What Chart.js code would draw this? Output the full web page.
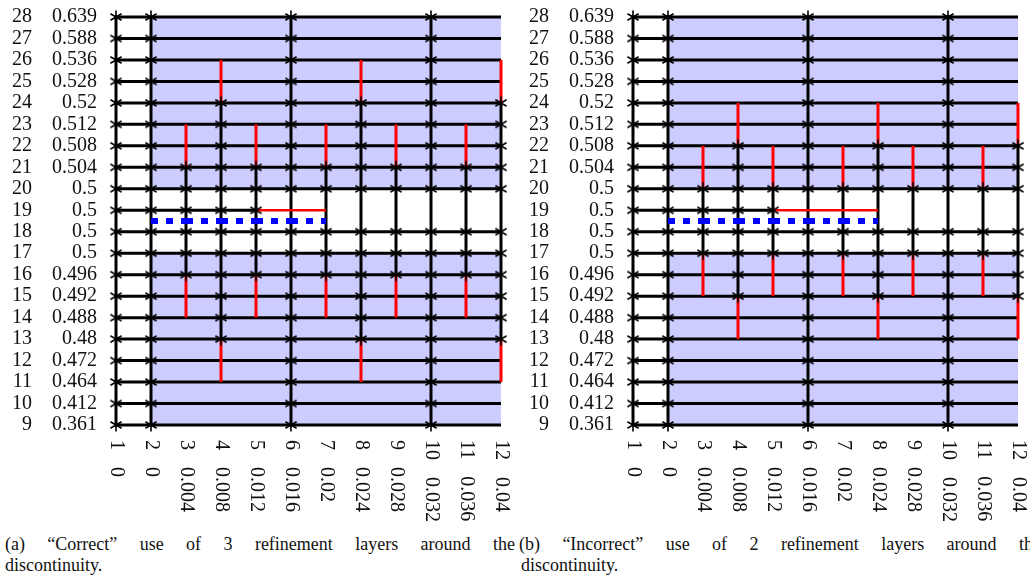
<!DOCTYPE html>
<html lang="en">
<head>
    <meta charset="UTF-8">
    <title>Refinement layers around the discontinuity</title>
    <script src="https://cdnjs.cloudflare.com/ajax/libs/Chart.js/4.4.8/chart.umd.min.js"></script>
    <style>
        body { margin: 0; width: 1030px; height: 581px; overflow: hidden; background: #fff; position: relative; }
        canvas { position: absolute; top: 0; }
        .cap { position: absolute; font-family: "Liberation Serif", serif; font-size: 18px; line-height: 21px; color: #111; white-space: nowrap; }
        .cap.full { text-align: justify; text-align-last: justify; white-space: normal; }
    </style>
</head>
<body>
    <canvas id="chartA" width="515" height="530" style="left:0"></canvas>
    <canvas id="chartB" width="515" height="530" style="left:517px"></canvas>

    <div class="cap full" style="left:5px; top:534px; width:510px">(a) “Correct” use of 3 refinement layers around the</div>
    <div class="cap" style="left:5px; top:555px">discontinuity.</div>
    <div class="cap full" style="left:519px; top:534px; width:522px">(b) “Incorrect” use of 2 refinement layers around the</div>
    <div class="cap" style="left:521px; top:555px">discontinuity.</div>

    <script>
        // ---- axis data ----
        const colIndex = [1, 2, 3, 4, 5, 6, 7, 8, 9, 10, 11, 12];
        const colValue = ['0', '0', '0.004', '0.008', '0.012', '0.016', '0.02', '0.024', '0.028', '0.032', '0.036', '0.04'];
        const rowIndex = [9, 10, 11, 12, 13, 14, 15, 16, 17, 18, 19, 20, 21, 22, 23, 24, 25, 26, 27, 28];
        const rowValue = ['0.361', '0.412', '0.464', '0.472', '0.48', '0.488', '0.492', '0.496', '0.5', '0.5',
                          '0.5', '0.5', '0.504', '0.508', '0.512', '0.52', '0.528', '0.536', '0.588', '0.639'];

        // shaded (blue) bands: row ranges, spanning columns 2..12
        const shadeBands = [[9, 17], [20, 28]];
        const shadeCols = [2, 12];

        // row 19 only has a black line up to column 5
        const shortRow = 19;
        const shortRowEnd = 5;

        // panel (a): black span of every column line, red hanging pieces
        const blackColsA = [[9, 28], [9, 28], [16, 21], [13, 24], [16, 21], [9, 28], [16, 21], [13, 24], [16, 21], [9, 28], [16, 21], [13, 24]];
        const redColsA = [[], [], [[14, 16], [21, 23]], [[11, 13], [24, 26]], [[14, 16], [21, 23]], [],
                          [[14, 16], [21, 23]], [[11, 13], [24, 26]], [[14, 16], [21, 23]], [], [[14, 16], [21, 23]], [[11, 13], [24, 26]]];
        const redRowA = [19, 5, 7];      // row, from column, to column
        const blueRowA = [18.5, 2, 7];   // discontinuity line

        // panel (b)
        const blackColsB = [[9, 28], [9, 28], [17, 20], [15, 22], [17, 20], [9, 28], [17, 20], [15, 22], [17, 20], [9, 28], [17, 20], [15, 22]];
        const redColsB = [[], [], [[15, 17], [20, 22]], [[13, 15], [22, 24]], [[15, 17], [20, 22]], [],
                          [[15, 17], [20, 22]], [[13, 15], [22, 24]], [[15, 17], [20, 22]], [], [[15, 17], [20, 22]], [[13, 15], [22, 24]]];
        const redRowB = [19, 5, 8];
        const blueRowB = [18.5, 2, 8];

        const FILL = 'rgb(204,204,255)';
        const FONT = '20px "Liberation Serif", serif';

        // asterisk mark
        const mark = (function () {
            const c = document.createElement('canvas');
            c.width = 16; c.height = 16;
            const g = c.getContext('2d');
            g.strokeStyle = '#000';
            g.lineWidth = 1.6;
            g.beginPath();
            g.moveTo(8, 1.5); g.lineTo(8, 14.5);
            g.moveTo(2.4, 4.8); g.lineTo(13.6, 11.2);
            g.moveTo(2.4, 11.2); g.lineTo(13.6, 4.8);
            g.stroke();
            return c;
        })();

        function seg(points, color, width, order, dash) {
            return {
                data: points, showLine: true, borderColor: color, borderWidth: width,
                borderDash: dash || [], pointRadius: 0, fill: false, order: order, clip: false
            };
        }

        function buildDatasets(blackCols, redCols, redRow, blueRow) {
            const ds = [];
            const first = colIndex[0], last = colIndex[colIndex.length - 1];

            // background bands (top line filled down to bottom line)
            shadeBands.forEach(function (b) {
                ds.push({ data: [{ x: shadeCols[0], y: b[1] }, { x: shadeCols[1], y: b[1] }], showLine: true,
                          borderWidth: 0, pointRadius: 0, fill: '+1', backgroundColor: FILL, order: 9 });
                ds.push({ data: [{ x: shadeCols[0], y: b[0] }, { x: shadeCols[1], y: b[0] }], showLine: true,
                          borderWidth: 0, pointRadius: 0, fill: false, order: 9 });
            });

            // horizontal grid lines
            rowIndex.forEach(function (r) {
                const end = r === shortRow ? shortRowEnd : last;
                ds.push(seg([{ x: first, y: r }, { x: end, y: r }], '#000', 3, 5));
            });

            // vertical lines, black part and red hanging parts
            const marks = [];
            colIndex.forEach(function (c, i) {
                const s = blackCols[i];
                ds.push(seg([{ x: c, y: s[0] }, { x: c, y: s[1] }], '#000', 3, 5));
                redCols[i].forEach(function (p) {
                    ds.push(seg([{ x: c, y: p[0] }, { x: c, y: p[1] }], '#ff0000', 3, 4));
                });
                rowIndex.forEach(function (r) {
                    if (r < s[0] || r > s[1]) return;
                    if (r === shortRow && c > shortRowEnd) return;
                    marks.push({ x: c, y: r });
                });
            });

            ds.push(seg([{ x: redRow[1], y: redRow[0] }, { x: redRow[2], y: redRow[0] }], '#ff0000', 2.7, 4));

            // dashed discontinuity line, one piece per cell
            for (let c = blueRow[1]; c < blueRow[2]; c++) {
                ds.push(seg([{ x: c, y: blueRow[0] }, { x: c + 1, y: blueRow[0] }], '#0000ff', 6, 2, [7, 8]));
            }

            ds.push({ data: marks, showLine: false, pointStyle: mark, pointRadius: 8, order: 0, clip: false });
            return ds;
        }

        // tick labels drawn at the positions given by the chart's scales
        const labelPlugin = {
            id: 'meshLabels',
            afterDraw(chart) {
                const ctx = chart.ctx;
                const xs = chart.scales.x, ys = chart.scales.y;
                ctx.save();
                ctx.font = FONT;
                ctx.fillStyle = '#111';
                ctx.textBaseline = 'middle';
                ctx.textAlign = 'right';
                rowIndex.forEach(function (r, i) {
                    const py = ys.getPixelForValue(r);
                    ctx.fillText(String(r), 32, py);
                    ctx.fillText(rowValue[i], 97, py);
                });
                ctx.textAlign = 'left';
                colIndex.forEach(function (c, i) {
                    const px = xs.getPixelForValue(c);
                    const idx = String(c);
                    const w = ctx.measureText(idx).width;
                    ctx.save();
                    ctx.translate(px, 440);
                    ctx.rotate(Math.PI / 2);
                    ctx.fillText(idx, 0, 0);
                    ctx.fillText(colValue[i], w + 17, 0);
                    ctx.restore();
                });
                ctx.restore();
            }
        };

        function makeChart(id, datasets) {
            return new Chart(document.getElementById(id), {
                type: 'scatter',
                data: { datasets: datasets },
                options: {
                    responsive: false,
                    animation: false,
                    devicePixelRatio: 1,
                    layout: { padding: { left: 116, right: 14, top: 17, bottom: 105 } },
                    elements: { line: { tension: 0 } },
                    plugins: { legend: { display: false }, tooltip: { enabled: false } },
                    scales: {
                        x: { type: 'linear', min: 1, max: 12, display: false },
                        y: { type: 'linear', min: 9, max: 28, display: false }
                    }
                },
                plugins: [labelPlugin]
            });
        }

        makeChart('chartA', buildDatasets(blackColsA, redColsA, redRowA, blueRowA));
        makeChart('chartB', buildDatasets(blackColsB, redColsB, redRowB, blueRowB));
    </script>
</body>
</html>
